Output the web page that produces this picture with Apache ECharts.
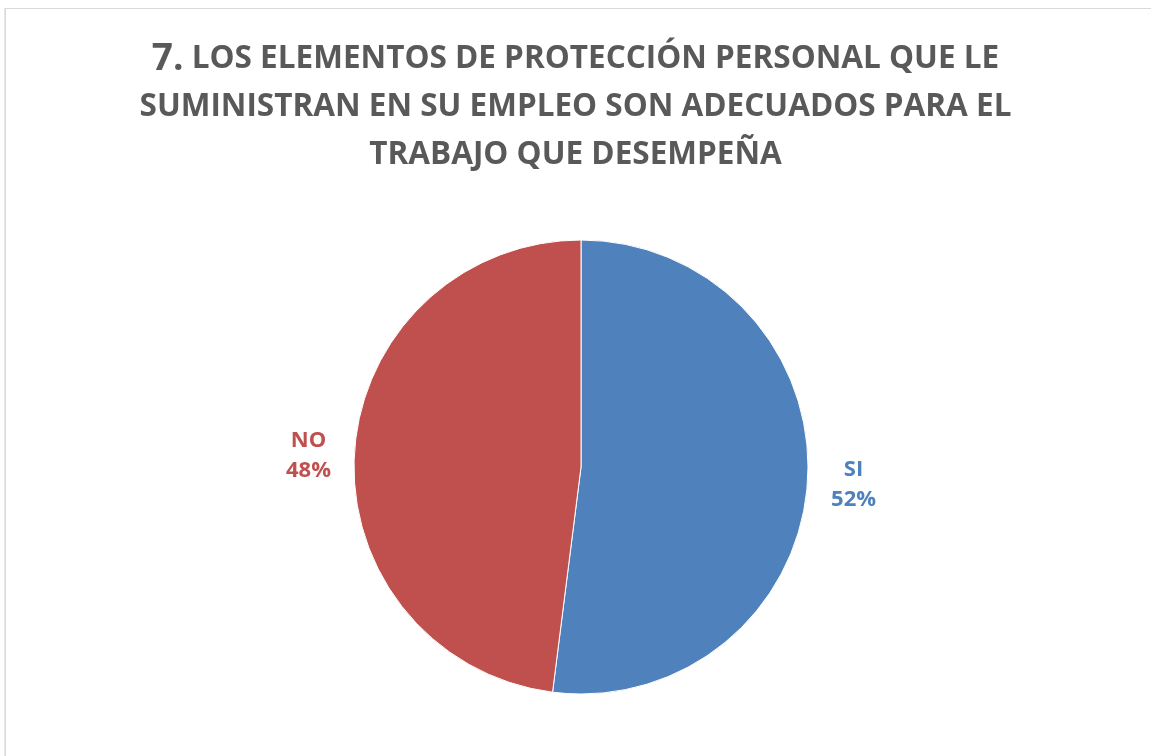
<!DOCTYPE html>
<html><head><meta charset="utf-8">
<script src="https://cdn.jsdelivr.net/npm/echarts@6/dist/echarts.min.js"></script>
<style>
html,body{margin:0;padding:0;background:#fff;}
#frame{position:absolute;left:5px;top:8px;width:1200px;height:800px;border:1px solid #d9d9d9;border-width:1px 0 0 1px;box-shadow:-1px 0 0 #e6e6e6;}
#c{position:absolute;left:0;top:0;width:1151px;height:756px;}
</style></head>
<body>
<div id="frame"></div>
<div id="c"></div>
<script>
const categories = ['SI', 'NO'];
const values = [52, 48];
const colors = ['#4F81BD', '#C0504D'];
const titleNumber = '7.';
const titleLines = ['LOS ELEMENTOS DE PROTECCIÓN PERSONAL QUE LE', 'SUMINISTRAN EN SU EMPLEO SON ADECUADOS PARA EL', 'TRABAJO QUE DESEMPEÑA'];

const chart = echarts.init(document.getElementById('c'));
const font = 'Open Sans';
function labelRich(color) {
  return {a: {color: color, fontFamily: font, fontWeight: 'bold', fontSize: 22, width: 60, align: 'center', lineHeight: 30}};
}
chart.setOption({
  animation: false,
  title: {
    text: '{n|' + titleNumber + '}{t| ' + titleLines[0] + '}\n{t|' + titleLines[1] + '}\n{t|' + titleLines[2] + '}',
    left: 'center', top: 30,
    textStyle: {
      fontFamily: font, fontWeight: 'bold', color: '#595959', lineHeight: 48,
      rich: {
        n: {fontFamily: font, fontWeight: 'bold', fontSize: 37, color: '#595959', lineHeight: 48},
        t: {fontFamily: font, fontWeight: 'bold', fontSize: 31.5, color: '#595959', lineHeight: 48}
      }
    }
  },
  series: [{
    type: 'pie',
    center: [581, 467],
    radius: 227,
    startAngle: 90,
    clockwise: true,
    itemStyle: {borderColor: '#fff', borderWidth: 1},
    labelLine: {show: false, length: 8, length2: 3},
    label: {
      show: true, position: 'outside',
      formatter: p => '{a|' + p.name + '}\n{a|' + Math.round(p.percent) + '%}',
      padding: [6, 0, 0, 0],
      rich: labelRich('#333')
    },
    data: categories.map((c, i) => ({
      name: c, value: values[i],
      itemStyle: {color: colors[i]},
      label: {color: colors[i], rich: labelRich(colors[i])}
    }))
  }]
});
</script>
</body></html>
